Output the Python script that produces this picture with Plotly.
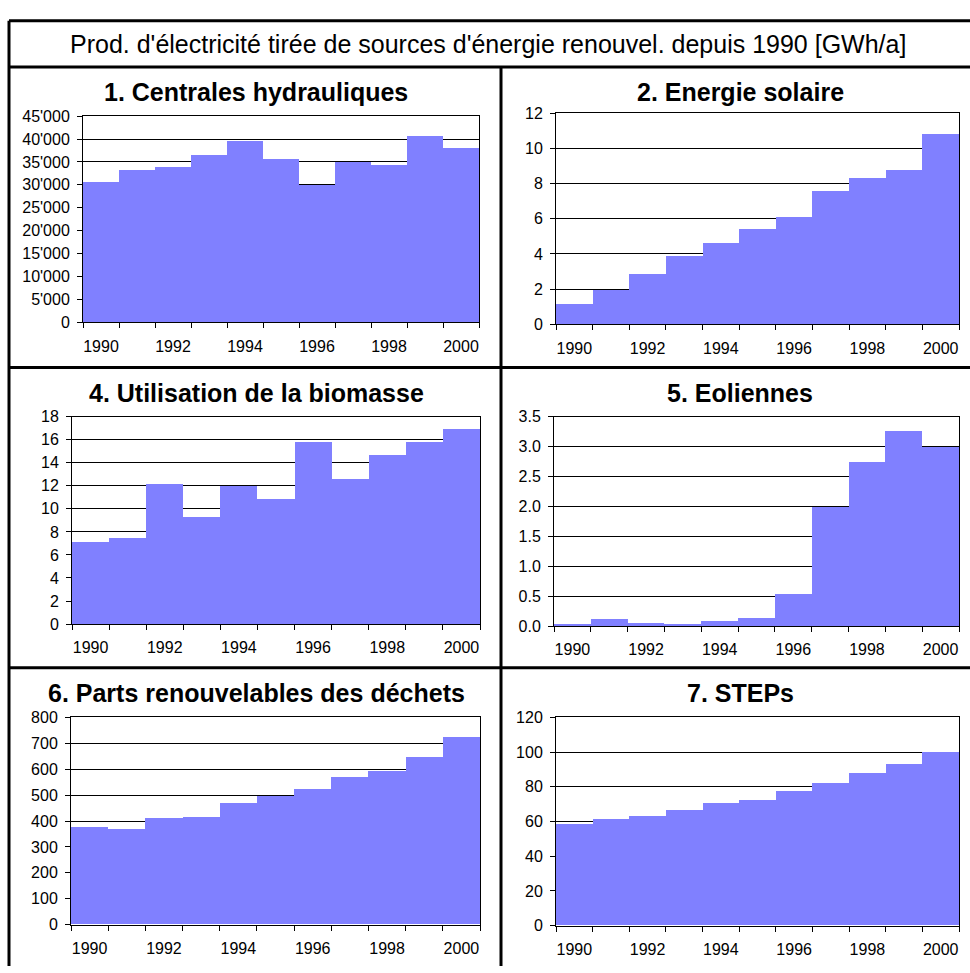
import plotly.graph_objects as go

# Renewable electricity production in Switzerland, 1990-2000 [GWh/a]
years = list(range(1990, 2001))
year_ticks = [1990, 1992, 1994, 1996, 1998, 2000]

hydro = [30600, 33200, 33900, 36400, 39600, 35600, 29900, 34900, 34400, 40700, 38000]
solar = [1.13, 1.97, 2.87, 3.89, 4.60, 5.43, 6.10, 7.55, 8.33, 8.78, 10.79]
biomass = [7.18, 7.49, 12.19, 9.29, 12.02, 10.91, 15.87, 12.62, 14.67, 15.81, 16.98]
wind = [0.044, 0.126, 0.06, 0.044, 0.093, 0.143, 0.54, 2.00, 2.74, 3.27, 2.99]
waste = [375, 367, 409, 416, 469, 497, 522, 568, 592, 644, 723]
steps = [58.3, 61.1, 62.8, 66.2, 70.2, 72.4, 77.5, 82.0, 87.6, 92.7, 99.9]

main_title = "Prod. d'électricité tirée de sources d'énergie renouvel. depuis 1990 [GWh/a]"

W, H = 970, 973
FONT = "Arial, 'Liberation Sans', sans-serif"
BAR = "#8080FF"


def px_x(x):
    return x / W


def px_y(y):
    return 1 - y / H


# title, values, y-range, y-step, tick format, plot box (left, top, right, bottom) in px
panels = [
    ("1. Centrales hydrauliques", hydro, 45000, 5000, ",d", (83, 110, 479, 320), 256, 86),
    ("2. Energie solaire", solar, 12, 2, "", (556, 107, 959, 322), 740, 86),
    ("4. Utilisation de la biomasse", biomass, 18, 2, "", (72, 416, 480, 627), 256, 392),
    ("5. Eoliennes", wind, 3.5, 0.5, ".1f", (554, 416, 959, 629), 740, 392),
    ("6. Parts renouvelables des déchets", waste, 800, 100, "", (71, 722, 480, 933), 256, 697),
    ("7. STEPs", steps, 120, 20, "", (556, 722, 959, 934), 740, 697),
]

fig = go.Figure()
annotations = []
layout_axes = {}

for i, (title, vals, ymax, ystep, fmt, box, tx, ty) in enumerate(panels, start=1):
    xa = "x" if i == 1 else f"x{i}"
    ya = "y" if i == 1 else f"y{i}"
    fig.add_trace(go.Bar(
        x=years, y=vals, width=1, xaxis=xa, yaxis=ya,
        marker=dict(color=BAR, line=dict(width=0)),
        showlegend=False, hoverinfo="x+y",
    ))
    l, t, r, b = box
    xkey = "xaxis" if i == 1 else f"xaxis{i}"
    ykey = "yaxis" if i == 1 else f"yaxis{i}"
    layout_axes[xkey] = dict(
        domain=[px_x(l), px_x(r)], anchor=ya,
        range=[1989.5, 2000.5], tickmode="array", tickvals=year_ticks,
        ticktext=[str(v) for v in year_ticks], ticks="",
        ticklabelstandoff=9,
        showgrid=False, zeroline=False,
        showline=True, linecolor="black", linewidth=1, mirror=True,
        minor=dict(tickmode="linear", tick0=1989.5, dtick=1, ticks="outside",
                   ticklen=5, tickcolor="black", tickwidth=1, showgrid=False),
        tickfont=dict(family=FONT, size=16, color="black"),
        fixedrange=True,
    )
    layout_axes[ykey] = dict(
        domain=[px_y(b), px_y(t)], anchor=xa,
        range=[0, ymax], tickmode="linear", tick0=0, dtick=ystep,
        tickformat=fmt, ticks="outside", ticklen=5, tickcolor="black",
        ticklabelstandoff=4,
        showgrid=True, gridcolor="black", gridwidth=1, zeroline=False,
        showline=True, linecolor="black", linewidth=1, mirror=True,
        tickfont=dict(family=FONT, size=16, color="black"),
        fixedrange=True,
    )
    annotations.append(dict(
        text=f"<b>{title}</b>", x=px_x(tx), y=px_y(ty), xref="paper", yref="paper",
        xanchor="center", yanchor="middle", showarrow=False,
        font=dict(family=FONT, size=25, color="black"),
    ))

annotations.append(dict(
    text=main_title, x=px_x(488), y=px_y(37), xref="paper", yref="paper",
    xanchor="center", yanchor="middle", showarrow=False,
    font=dict(family=FONT, size=25, color="black"),
))

# frame lines separating the header and the six cells
frame = [
    (9, 13, 975, 13),
    (9, 13, 9, 975),
    (9, 60, 975, 60),
    (501, 60, 501, 975),
    (9, 366, 975, 366),
    (9, 671.5, 975, 671.5),
]
shapes = [
    dict(type="line", xref="paper", yref="paper",
         x0=px_x(x0), y0=px_y(y0), x1=px_x(x1), y1=px_y(y1),
         line=dict(color="black", width=3))
    for x0, y0, x1, y1 in frame
]

fig.update_layout(
    width=W, height=H,
    margin=dict(l=0, r=0, t=0, b=0),
    paper_bgcolor="white", plot_bgcolor="white",
    separators=".'",
    bargap=0,
    annotations=annotations,
    shapes=shapes,
    **layout_axes,
)

fig.write_html("out.html")
